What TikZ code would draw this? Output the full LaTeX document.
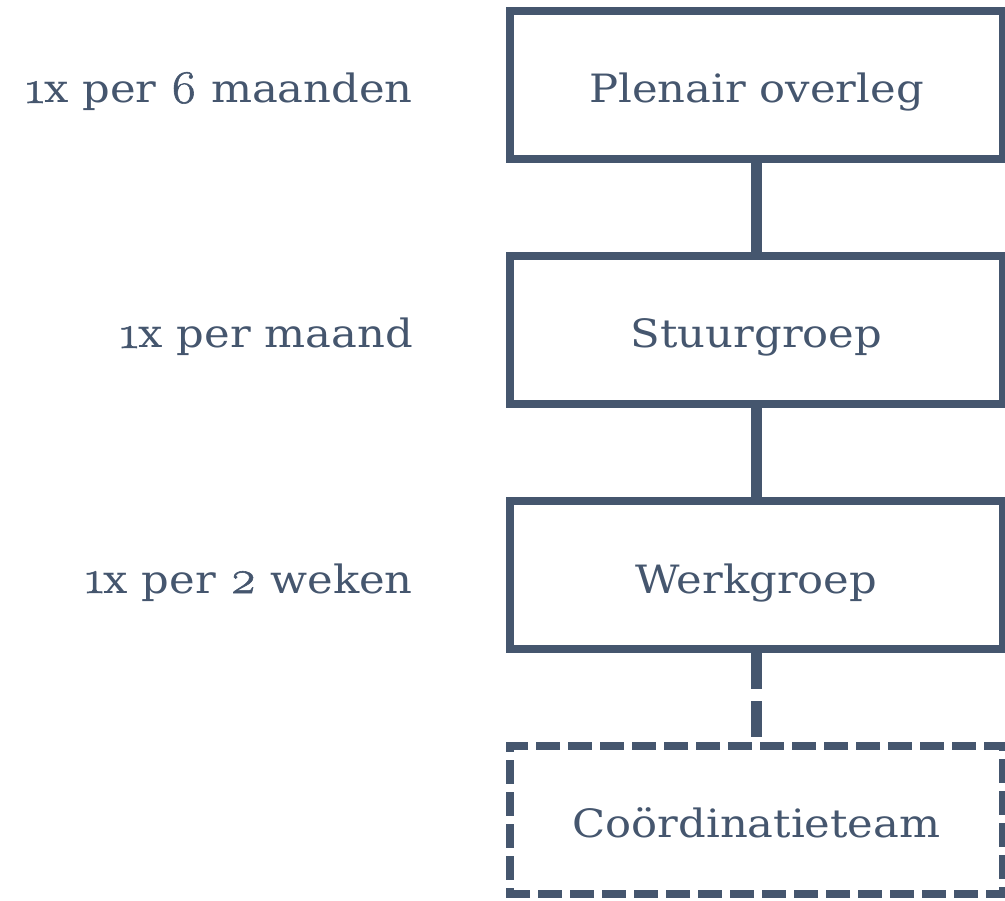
\documentclass[tikz,border=0pt]{standalone}
\usepackage{fontspec}
\setmainfont{DejaVu Serif}[FakeStretch=1.11]
\newfontfamily\osf{Latin Modern Roman}[Numbers=OldStyle, Scale=1.2, FakeStretch=1.1, FakeBold=1.2]
\newcommand{\osn}[1]{{\osf #1}}
\definecolor{slate}{RGB}{69,86,110}
\tikzset{
  orgbox/.style={draw=slate, line width=8pt, minimum width=493pt, minimum height=148pt,
    inner sep=0pt, text height=36pt, text depth=0pt, font=\fontsize{39}{44}\selectfont, text=slate},
  dashbox/.style={orgbox, dash pattern=on 16pt off 16pt, line cap=rect},
  freq/.style={anchor=base east, font=\fontsize{39}{44}\selectfont, text=slate, inner sep=0pt},
  link/.style={draw=slate, line width=11pt},
  dashlink/.style={link, dash pattern=on 36pt off 12pt}
}
\begin{document}
\begin{tikzpicture}[x=1pt,y=1pt]
\useasboundingbox (0,0) rectangle (1005,-901);
\node[orgbox] (plen) at (756.5,-85) {Plenair overleg};
\node[orgbox] (stuur) at (756.5,-330) {Stuurgroep};
\node[orgbox] (werk) at (756.5,-575) {Werkgroep};
\node[dashbox] (coord) at (756.5,-819.5) {Co\"ordinatieteam};
\node[freq] (f1) at (413,-103) {\osn{1}x per \osn{6} maanden};
\node[freq] (f2) at (413,-348) {\osn{1}x per maand};
\node[freq] (f3) at (413,-593) {\osn{1}x per \osn{2} weken};
\draw[link] (plen.south) -- (stuur.north);
\draw[link] (stuur.south) -- (werk.north);
\draw[dashlink] (werk.south) -- (coord.north);
\end{tikzpicture}
\end{document}
